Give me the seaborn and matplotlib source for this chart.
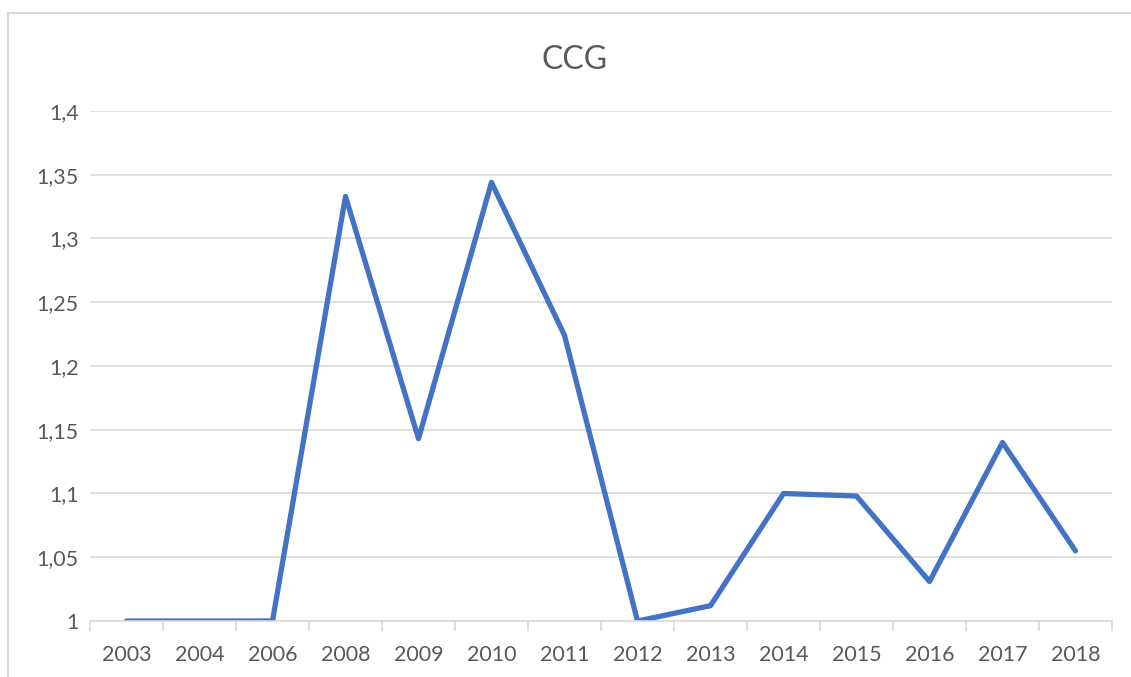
import pandas as pd
import matplotlib.pyplot as plt
from matplotlib.lines import Line2D
import seaborn as sns

# data
years = ["2003", "2004", "2006", "2008", "2009", "2010", "2011",
         "2012", "2013", "2014", "2015", "2016", "2017", "2018"]
ccg = [1.0, 1.0, 1.0, 1.333, 1.143, 1.344, 1.224,
       1.0, 1.012, 1.100, 1.098, 1.031, 1.140, 1.055]
y_ticks = [1.0, 1.05, 1.1, 1.15, 1.2, 1.25, 1.3, 1.35, 1.4]
y_labels = ["1", "1,05", "1,1", "1,15", "1,2", "1,25", "1,3", "1,35", "1,4"]

df = pd.DataFrame({"pos": range(len(years)), "year": years, "ccg": ccg})

sns.set_theme(style="white")
plt.rcParams["font.family"] = ["Lato", "DejaVu Sans"]

txt = "#595959"
grid = "#d9d9d9"

fig = plt.figure(figsize=(11.31, 6.77), dpi=100)
ax = fig.add_axes([90 / 1131, 56 / 677, 1022 / 1131, 510 / 677])

sns.lineplot(data=df, x="pos", y="ccg", ax=ax, color="#4472C4",
             linewidth=3.8, solid_capstyle="round", solid_joinstyle="round")

ax.set_xlim(-0.5, len(years) - 0.5)
ax.set_ylim(1.0, 1.4)
ax.set_yticks(y_ticks)
ax.set_yticklabels(y_labels)
ax.set_xticks(df["pos"])
ax.set_xticklabels(years)
ax.set_xticks([i - 0.5 for i in range(len(years) + 1)], minor=True)
ax.tick_params(axis="x", which="major", length=0, pad=17, labelsize=15.5, labelcolor=txt)
# seaborn's white style turns bottom ticks off, switch the boundary ticks back on
ax.tick_params(axis="x", which="minor", bottom=True, length=7, width=1.2,
               color=grid, direction="out")
ax.tick_params(axis="y", length=0, pad=8, labelsize=15.5, labelcolor=txt)

ax.yaxis.grid(True, color=grid, linewidth=1.2)
ax.set_axisbelow(True)
for s in ["top", "right", "left"]:
    ax.spines[s].set_visible(False)
ax.spines["bottom"].set_color(grid)
ax.spines["bottom"].set_linewidth(1.2)
ax.set_xlabel("")
ax.set_ylabel("")

fig.text(575 / 1131, 1 - 60 / 677, "CCG", ha="center", va="center", fontsize=23, color=txt)

# chart area border (only top and left visible in the crop)
fig.add_artist(Line2D([8 / 1131, 1], [1 - 13 / 677] * 2, color=grid, linewidth=1.5, transform=fig.transFigure))
fig.add_artist(Line2D([8 / 1131] * 2, [0, 1 - 13 / 677], color=grid, linewidth=1.5, transform=fig.transFigure))

fig.savefig("out.png", dpi=100)
